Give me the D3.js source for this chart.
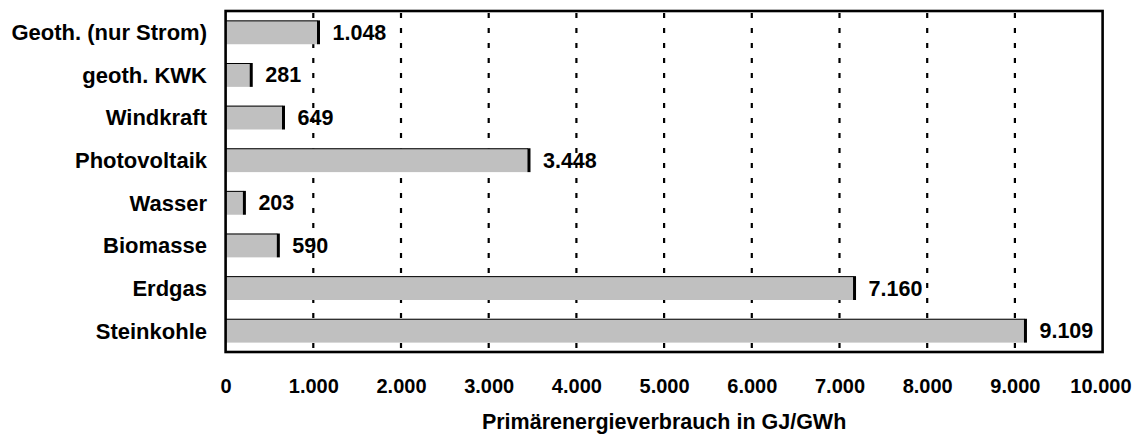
<!DOCTYPE html>
<html>
<head>
<meta charset="utf-8">
<script src="https://cdn.jsdelivr.net/npm/d3@7"></script>
<style>
  html, body { margin: 0; padding: 0; background: #fff; }
  text { font-family: "Liberation Sans", Arial, sans-serif; font-weight: bold; fill: #000; }
</style>
</head>
<body>
<svg id="chart" width="1134" height="436"></svg>
<script>
const categories = ["Geoth. (nur Strom)", "geoth. KWK ", "Windkraft", "Photovoltaik", "Wasser", "Biomasse", "Erdgas", "Steinkohle"];
const values = [1048, 281, 649, 3448, 203, 590, 7160, 9109];
const valueLabels = ["1.048", "281", "649", "3.448", "203", "590", "7.160", "9.109"];
const tickValues = [0, 1000, 2000, 3000, 4000, 5000, 6000, 7000, 8000, 9000, 10000];
const tickLabels = ["0", "1.000", "2.000", "3.000", "4.000", "5.000", "6.000", "7.000", "8.000", "9.000", "10.000"];
const axisTitle = "Primärenergieverbrauch in GJ/GWh";

const svg = d3.select("#chart");
const pL = 225.6, pR = 1102.6, pT = 11, pB = 352;

const x = d3.scaleLinear().domain([0, 10000]).range([pL, pR]);
const y = d3.scaleBand().domain(categories).range([pT, pB]).paddingInner(0.44).paddingOuter(0.22);

// gridlines
svg.append("g").selectAll("line")
  .data(tickValues.filter(v => v > 0 && v < 10000))
  .join("line")
  .attr("x1", d => x(d)).attr("x2", d => x(d))
  .attr("y1", pT).attr("y2", pB)
  .attr("stroke", "#000").attr("stroke-width", 2.2)
  .attr("stroke-dasharray", "5,10").attr("stroke-dashoffset", 13);

// bars
const bars = svg.append("g").selectAll("g").data(categories).join("g");
bars.append("rect")
  .attr("x", x(0))
  .attr("y", d => y(d))
  .attr("width", (d, i) => x(values[i]) - x(0))
  .attr("height", y.bandwidth())
  .attr("fill", "#c0c0c0");
bars.append("line")
  .attr("x1", x(0)).attr("x2", (d, i) => x(values[i]))
  .attr("y1", d => y(d) + 0.5).attr("y2", d => y(d) + 0.5)
  .attr("stroke", "#000").attr("stroke-width", 1);
bars.append("line")
  .attr("x1", (d, i) => x(values[i]) + 1).attr("x2", (d, i) => x(values[i]) + 1)
  .attr("y1", d => y(d)).attr("y2", d => y(d) + y.bandwidth())
  .attr("stroke", "#000").attr("stroke-width", 3);

// value labels
bars.append("text")
  .attr("x", (d, i) => x(values[i]) + 15)
  .attr("y", d => y(d) + y.bandwidth() / 2 + 7.5)
  .attr("font-size", 21.5)
  .text((d, i) => valueLabels[i]);

// frame
svg.append("rect")
  .attr("x", pL).attr("y", pT)
  .attr("width", pR - pL).attr("height", pB - pT)
  .attr("fill", "none").attr("stroke", "#000").attr("stroke-width", 2.6);

// category axis
const yAxis = d3.axisLeft(y).tickSize(0).tickPadding(0);
const yg = svg.append("g").attr("transform", `translate(207,0)`).call(yAxis);
yg.select(".domain").remove();
yg.selectAll("text")
  .attr("font-size", 22)
  .attr("dy", null)
  .attr("y", 7.8)
  .style("font-family", "Liberation Sans, Arial, sans-serif")
  .style("font-weight", "bold")
  .attr("fill", "#000");

// x axis
const xAxis = d3.axisBottom(x).tickValues(tickValues).tickSize(0).tickPadding(0)
  .tickFormat((d, i) => tickLabels[i]);
const xg = svg.append("g").attr("transform", `translate(0,393)`).call(xAxis);
xg.select(".domain").remove();
xg.selectAll("text")
  .attr("font-size", 20)
  .attr("dy", null)
  .attr("y", 0)
  .style("font-family", "Liberation Sans, Arial, sans-serif")
  .style("font-weight", "bold")
  .attr("fill", "#000");
// keep the last label inside the canvas, as in the reference
xg.selectAll(".tick").filter(d => d === 10000).select("text")
  .attr("text-anchor", "end").attr("x", 1131 - x(10000));

// axis title
svg.append("text")
  .attr("x", (pL + pR) / 2)
  .attr("y", 429)
  .attr("text-anchor", "middle")
  .attr("font-size", 21.5)
  .text(axisTitle);
</script>
</body>
</html>
